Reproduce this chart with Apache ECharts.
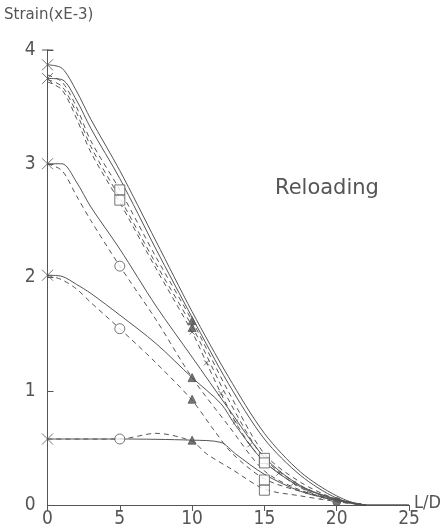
<!DOCTYPE html>
<html><head><meta charset="utf-8">
<script src="https://cdn.jsdelivr.net/npm/echarts@6/dist/echarts.min.js"></script>
<style>html,body{margin:0;padding:0;background:#fff}#c{width:445px;height:530px}</style>
</head><body><div id="c"></div>
<script>
// L/D positions and strain values (xE-3)
const solidTop1 = [[0,3.87],[1,3.84],[2,3.64],[3,3.39],[5,2.94],[7.5,2.32],[10,1.70],[12.5,1.13],[15,0.63],[17.5,0.29],[20,0.08],[22,0],[25,0]];
const solidTop2 = [[0,3.75],[1,3.74],[2,3.56],[3,3.31],[5,2.87],[7.5,2.25],[10,1.65],[12.5,1.07],[15,0.58],[17.5,0.26],[20,0.06],[22,0],[25,0]];
const dashTop1  = [[0,3.78],[1,3.72],[2,3.50],[3,3.20],[5,2.77],[7.5,2.18],[10,1.62],[12.5,1.00],[15,0.45],[17.5,0.20],[20,0.05],[22,0]];
const dashTop2  = [[0,3.74],[1,3.68],[2,3.45],[3,3.15],[5,2.70],[7.5,2.12],[10,1.57],[12.5,0.93],[15,0.41],[17.5,0.17],[20,0.04],[22,0]];
const dashTop3  = [[0,3.72],[1,3.65],[2,3.40],[3,3.10],[5,2.66],[7.5,2.08],[10,1.52],[11,1.25],[12,0.98],[13,0.73],[14,0.53],[15,0.38],[16,0.28],[17,0.19],[18,0.12],[19,0.07],[20,0.03],[22,0]];
const solidMid  = [[0,3.00],[1,3.00],[2,2.84],[3,2.62],[5,2.25],[7.5,1.75],[10,1.30],[12.5,0.85],[15,0.42],[17.5,0.17],[20,0.05],[22,0]];
const dashMid   = [[0,3.00],[1,2.94],[2,2.72],[3,2.50],[5,2.10],[7.5,1.63],[10,1.12],[12.5,0.70],[15,0.30],[17.5,0.13],[20,0.04],[22,0]];
const solidLow  = [[0,2.02],[1,2.01],[2,1.94],[3,1.86],[5,1.67],[7.5,1.42],[10,1.12],[12,0.89],[13,0.70],[15,0.38],[17.5,0.16],[20,0.05],[22,0]];
const dashLow   = [[0,2.02],[1,1.98],[2,1.90],[3,1.78],[5,1.55],[7.5,1.25],[10,0.92],[11.5,0.66],[12.8,0.45],[15,0.23],[17.5,0.12],[20,0.05],[22,0]];
const solidBot  = [[0,0.58],[5,0.58],[10,0.57],[12,0.55],[13,0.45],[15,0.27],[17.5,0.12],[20,0.04],[22,0]];
const dashBot   = [[0,0.58],[5,0.58],[7.5,0.63],[10,0.56],[11,0.45],[12.8,0.31],[15,0.14],[17.5,0.08],[20,0.03],[22,0]];
const crossMarks  = [[0,3.87],[0,3.75],[0,3.00],[0,2.02],[0,0.58]];
const circleMarks = [[5,2.10],[5,1.55],[5,0.58]];
const squareMarks = [[5,2.77],[5,2.68],[15,0.41],[15,0.37],[15,0.22],[15,0.13]];
const triMarks    = [[10,1.62],[10,1.56],[10,1.12],[10,0.93],[10,0.57]];
const dotMarks    = [[20,0.03]];
const xTicks = [0,5,10,15,20,25];
const yTicks = [0,1,2,3,4];

const C = '#555';
const FONT = "'Liberation Sans Narrow','DejaVu Sans Condensed','DejaVu Sans',sans-serif";
function line(data, dashed){
  return {type:'line', data, smooth:0.3, symbol:'none',
    lineStyle:{color:C, width:1, type: dashed ? [5,4] : 'solid'}, z:2, silent:true};
}
function marks(data, symbol, size, fill){
  return {type:'scatter', data, symbol, symbolSize:size, z:5, silent:true,
    itemStyle:{color: fill ? C : '#fff', borderColor:C, borderWidth:1}};
}
const series = [
  line(solidTop1,false), line(solidTop2,false),
  line(dashTop1,true), line(dashTop2,true), line(dashTop3,true),
  line(solidMid,false), line(dashMid,true),
  line(solidLow,false), line(dashLow,true),
  line(solidBot,false), line(dashBot,true),
  {type:'scatter', data:dashTop3.filter(p=>p[0]>=10 && p[0]<=19), symbol:'path://M0,0L10,10M10,0L0,10', symbolSize:5, z:4, silent:true,
    itemStyle:{color:'none', borderColor:C, borderWidth:1}},
  {type:'scatter', data:crossMarks, symbol:'path://M0,0L10,10M10,0L0,10M5,0L5,10', symbolSize:11, z:5, silent:true,
    itemStyle:{color:'none', borderColor:C, borderWidth:1}},
  marks(circleMarks,'circle',10,false),
  marks(squareMarks,'rect',10,false),
  marks(triMarks,'triangle',8,true),
  marks(dotMarks,'circle',8,true)
];
const chart = echarts.init(document.getElementById('c'), null, {renderer:'canvas'});
chart.setOption({
  animation:false,
  backgroundColor:'#fff',
  grid:{left:47.5, right:36, top:50, bottom:25},
  xAxis:{type:'value', min:0, max:25, interval:5,
    axisLine:{lineStyle:{color:C,width:1}},
    axisTick:{show:true, inside:false, length:6, lineStyle:{color:C}},
    splitLine:{show:false},
    axisLabel:{color:C, fontFamily:FONT, fontSize:19, margin:5, formatter:v=>xTicks.includes(v)?String(v):''}},
  yAxis:{type:'value', min:0, max:4, interval:1,
    axisLine:{show:true, lineStyle:{color:C,width:1}},
    axisTick:{show:true, inside:true, length:6, lineStyle:{color:C}},
    splitLine:{show:false},
    axisLabel:{color:C, fontFamily:FONT, fontSize:19, margin:12, formatter:v=>yTicks.includes(v)?String(v):''}},
  graphic:[
    {type:'text', left:4, top:8, style:{text:'Strain(xE-3)', fill:C, font:"15px 'DejaVu Sans',sans-serif"}},
    {type:'text', left:414, top:494, style:{text:'L/D', fill:C, font:"18px "+FONT}},
    {type:'text', left:275, top:178, style:{text:'Reloading', fill:C, font:"21px 'DejaVu Sans',sans-serif"}},
    {type:'line', shape:{x1:42, y1:50, x2:53, y2:50}, style:{stroke:C, lineWidth:1}}
  ],
  series
});
</script></body></html>
